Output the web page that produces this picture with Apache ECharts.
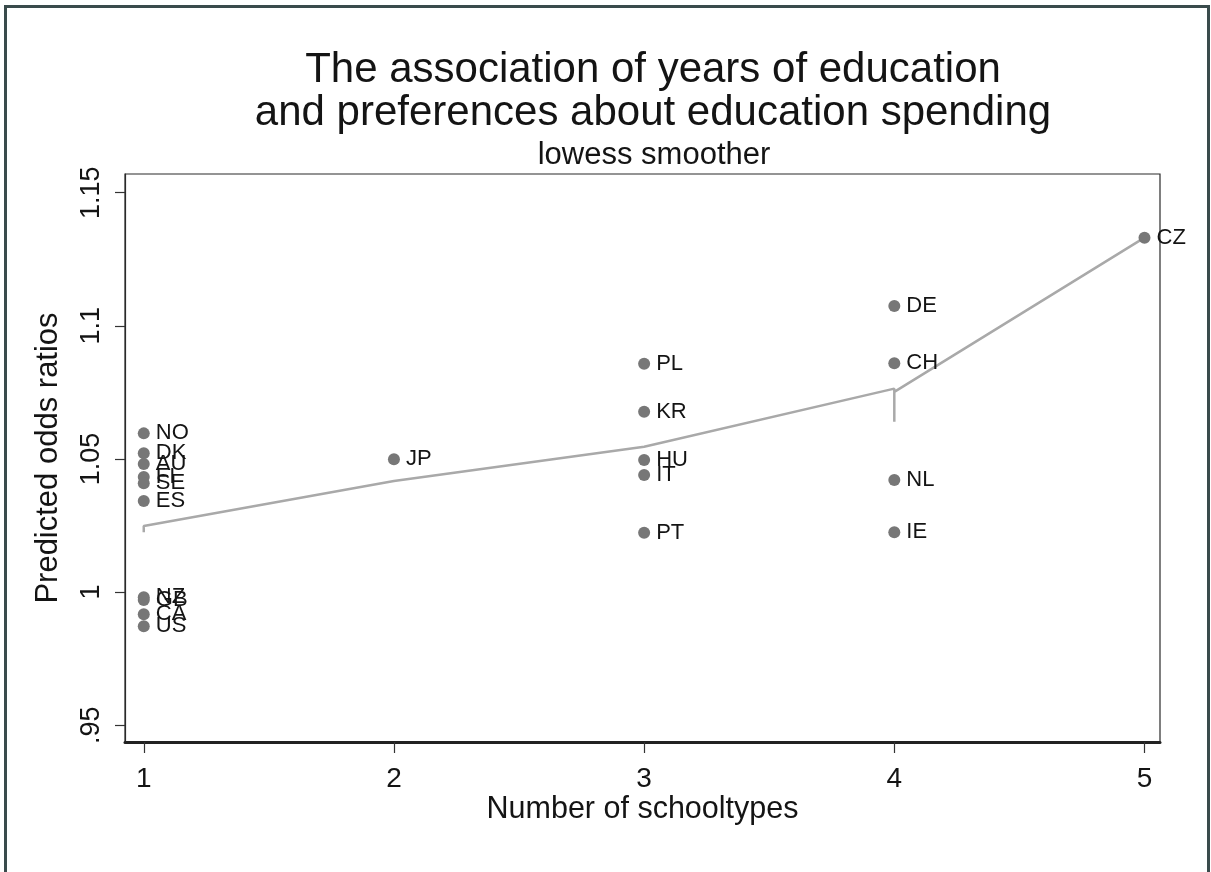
<!DOCTYPE html>
<html>
<head>
<meta charset="utf-8">
<title>Years of education and education spending preferences</title>
<script src="https://cdn.jsdelivr.net/npm/echarts@6/dist/echarts.min.js"></script>
<style>
  html, body { margin: 0; padding: 0; background: #ffffff; }
  #chart { width: 1211px; height: 872px; }
</style>
</head>
<body>
<div id="chart"></div>
<script>
// Country codes and their coordinates
const countries   = ['NO', 'DK', 'AU', 'FI', 'SE', 'ES', 'NZ', 'GB', 'CA', 'US',
                     'JP', 'PL', 'KR', 'HU', 'IT', 'PT', 'DE', 'CH', 'NL', 'IE', 'CZ'];
const schooltypes = [1, 1, 1, 1, 1, 1, 1, 1, 1, 1,
                     2, 3, 3, 3, 3, 3, 4, 4, 4, 4, 5];
const oddsRatios  = [1.0596, 1.0521, 1.0481, 1.0432, 1.0409, 1.0342, 0.9981, 0.9970, 0.9917, 0.9872,
                     1.0499, 1.0857, 1.0677, 1.0496, 1.0440, 1.0223, 1.1074, 1.0859, 1.0421, 1.0225, 1.1331];

// Lowess smoothed values (sorted by number of schooltypes)
const lowessX = [1, 1, 2, 3, 4, 4, 4, 5];
const lowessY = [1.0225, 1.0248, 1.0417, 1.0546, 1.0764, 1.0640, 1.0752, 1.1331];

// Axis ticks
const xTicks = [1, 2, 3, 4, 5];
const yTicks = [0.95, 1.0, 1.05, 1.1, 1.15];
const yTickLabels = ['.95', '1', '1.05', '1.1', '1.15'];

const FONT = '"Liberation Sans", Arial, Helvetica, sans-serif';
const INK = '#141414';

const points = countries.map((c, i) => [schooltypes[i], oddsRatios[i], c]);
const smooth = lowessX.map((x, i) => [x, lowessY[i]]);

const chart = echarts.init(document.getElementById('chart'), null, { renderer: 'canvas' });

chart.setOption({
  backgroundColor: '#ffffff',
  animation: false,
  title: [
    {
      text: 'The association of years of education\nand preferences about education spending',
      left: 648, top: 44, textAlign: 'center',
      textStyle: { fontFamily: FONT, fontSize: 42, fontWeight: 'normal', color: INK, lineHeight: 43 }
    },
    {
      text: 'lowess smoother',
      left: 649, top: 135, textAlign: 'center',
      textStyle: { fontFamily: FONT, fontSize: 31, fontWeight: 'normal', color: INK }
    }
  ],
  graphic: [
    {
      type: 'rect', silent: true, z: 100,
      shape: { x: 5.5, y: 6.5, width: 1203, height: 900 },
      style: { fill: 'none', stroke: '#3a4b4c', lineWidth: 3 }
    }
  ],
  grid: {
    left: 125, right: 51, top: 174, bottom: 130,
    show: true, borderColor: '#2a2a2a', borderWidth: 1.2, backgroundColor: '#ffffff'
  },
  xAxis: {
    type: 'value',
    min: 0.925, max: 5.062,
    name: 'Number of schooltypes',
    nameLocation: 'middle', nameGap: 52, nameMoveOverlap: false,
    nameTextStyle: { fontFamily: FONT, fontSize: 30.5, color: INK },
    axisLine: { show: true, onZero: false, lineStyle: { color: '#222222', width: 3 } },
    axisTick: { show: true, length: 11, lineStyle: { color: '#333333', width: 1.2 },
                customValues: xTicks },
    axisLabel: { fontFamily: FONT, fontSize: 28, color: INK, margin: 23,
                 customValues: xTicks, formatter: v => String(v) },
    splitLine: { show: false }
  },
  yAxis: {
    type: 'value',
    min: 0.9437, max: 1.157,
    name: 'Predicted odds ratios',
    nameLocation: 'middle', nameGap: 61,
    nameTextStyle: { fontFamily: FONT, fontSize: 31, color: INK },
    axisLine: { show: true, onZero: false, lineStyle: { color: '#2a2a2a', width: 1.2 } },
    axisTick: { show: true, length: 10, lineStyle: { color: '#333333', width: 1.2 },
                customValues: yTicks },
    axisLabel: {
      fontFamily: FONT, fontSize: 27, color: INK, rotate: 90, margin: 20,
      customValues: yTicks,
      formatter: v => {
        const k = yTicks.findIndex(t => Math.abs(t - v) < 1e-6);
        return k >= 0 ? yTickLabels[k] : '';
      }
    },
    splitLine: { show: false }
  },
  series: [
    {
      name: 'lowess',
      type: 'line',
      data: smooth,
      symbol: 'none',
      z: 2,
      lineStyle: { color: '#a9a9a9', width: 2.5 },
      silent: true
    },
    {
      name: 'countries',
      type: 'scatter',
      data: points,
      symbol: 'circle',
      symbolSize: 12,
      z: 3,
      itemStyle: { color: '#777777', opacity: 1 },
      label: {
        show: true,
        position: 'right',
        distance: 6,
        formatter: p => p.data[2],
        fontFamily: FONT, fontSize: 22, color: INK, opacity: 1, textBorderWidth: 0
      }
    }
  ]
});
</script>
</body>
</html>
